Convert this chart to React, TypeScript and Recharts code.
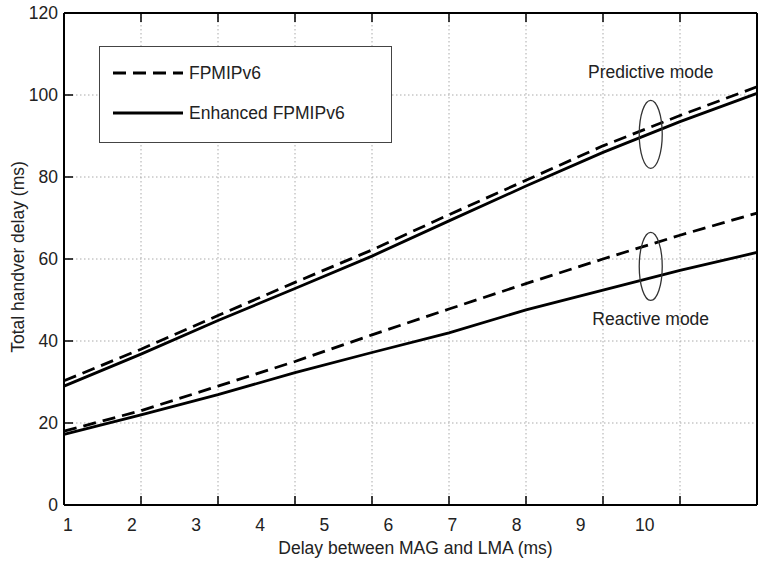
import React from "react"
import { CartesianGrid, Legend, Line, LineChart, ReferenceDot, XAxis, YAxis } from "recharts"

// delay between MAG and LMA (grid positions of the original axis)
const delays = [1, 2, 3, 4, 5, 6, 7, 8, 9, 10]
// total handover delay (ms)
const predictiveFpmip = [30.3, 38.0, 46.2, 54.3, 62.2, 70.8, 79.2, 87.6, 95.0, 102.0]
const predictiveEnhanced = [29.0, 36.8, 45.0, 52.8, 60.7, 69.3, 77.8, 86.0, 93.5, 100.4]
const reactiveFpmip = [18.0, 23.0, 29.0, 35.0, 41.5, 47.8, 54.0, 60.0, 65.8, 71.2]
const reactiveEnhanced = [17.2, 22.0, 26.9, 32.3, 37.2, 42.0, 47.6, 52.4, 57.2, 61.6]

const yTicks = [0, 20, 40, 60, 80, 100, 120]
const xTickLabels = [1, 2, 3, 4, 5, 6, 7, 8, 9, 10]
const legendOrder = ["FPMIPv6", "Enhanced FPMIPv6"]

const modeNotes = [
  { text: "Predictive mode", x: 8.62, y: 105.6 },
  { text: "Reactive mode", x: 8.62, y: 45.4 },
]
const modeRings = [
  { x: 8.62, y: 90.4 },
  { x: 8.62, y: 58.2 },
]

const data = delays.map((d, i) => ({
  x: d,
  pf: predictiveFpmip[i],
  pe: predictiveEnhanced[i],
  rf: reactiveFpmip[i],
  re: reactiveEnhanced[i],
}))

const FONT = "'Liberation Sans', Arial, sans-serif"
const FS = 17.5
const TXT = "#222"
const DASH = "13 7"

const noLabel = () => <g />

function XTitle(props: any) {
  const { viewBox } = props
  return (
    <text
      x={viewBox.x + viewBox.width / 2 + 5}
      y={viewBox.y + viewBox.height - 10}
      textAnchor="middle"
      fontSize={FS}
      fill={TXT}
      fontFamily={FONT}
    >
      Delay between MAG and LMA (ms)
    </text>
  )
}

function YTitle(props: any) {
  const { viewBox } = props
  const cx = 17.5
  const cy = viewBox.y + viewBox.height / 2 - 2
  return (
    <text
      x={cx}
      y={cy}
      transform={`rotate(-90 ${cx} ${cy})`}
      textAnchor="middle"
      dominantBaseline="central"
      fontSize={FS}
      fill={TXT}
      fontFamily={FONT}
    >
      Total handver delay (ms)
    </text>
  )
}

function LegendBox(props: any) {
  const items = (props.payload || [])
    .filter((e: any) => legendOrder.includes(e.value))
    .sort((a: any, b: any) => legendOrder.indexOf(a.value) - legendOrder.indexOf(b.value))
  return (
    <div
      style={{
        width: 293,
        height: 97,
        boxSizing: "border-box",
        border: "1.5px solid #444",
        background: "#fff",
        position: "relative",
        fontFamily: FONT,
      }}
    >
      {items.map((e: any, i: number) => (
        <div
          key={i}
          style={{
            position: "absolute",
            left: 12,
            top: 26 + i * 40 - 12,
            height: 24,
            display: "flex",
            alignItems: "center",
          }}
        >
          <svg width={72} height={24}>
            <line
              x1={1}
              x2={71}
              y1={12}
              y2={12}
              stroke="#000"
              strokeWidth={3}
              strokeDasharray={e.payload?.strokeDasharray}
            />
          </svg>
          <span style={{ marginLeft: 5, fontSize: FS, color: TXT, whiteSpace: "nowrap" }}>{e.value}</span>
        </div>
      ))}
    </div>
  )
}

const ring = (p: any) => (
  <ellipse cx={p.cx} cy={p.cy} rx={11.5} ry={34} fill="none" stroke="#333" strokeWidth={1.3} />
)

const note = (text: string) => (p: any) => (
  <text
    x={p.cx}
    y={p.cy}
    textAnchor="middle"
    dominantBaseline="central"
    fontSize={FS}
    fill={TXT}
    fontFamily={FONT}
  >
    {text}
  </text>
)

const axisStroke = { stroke: "#000", strokeWidth: 2 }
const tickStroke = { stroke: "#000", strokeWidth: 1.5 }

export default function App() {
  return (
    <div style={{ position: "absolute", left: 0, top: 0, width: 759, height: 564, background: "#fff" }}>
      <LineChart
        width={759}
        height={564}
        data={data}
        margin={{ top: 12, right: 1, bottom: 0, left: 0 }}
        style={{ fontFamily: FONT }}
      >
        <CartesianGrid stroke="#aaa" strokeDasharray="1.5 2.5" xAxisId={0} yAxisId={0} />
        <XAxis
          xAxisId={0}
          dataKey="x"
          type="number"
          domain={[1, 10]}
          ticks={delays}
          height={1}
          tick={noLabel}
          tickSize={-9}
          axisLine={axisStroke}
          tickLine={tickStroke}
          interval={0}
        />
        <XAxis
          xAxisId="lab"
          dataKey="x"
          type="number"
          domain={[0.94, 11.75]}
          allowDataOverflow
          ticks={xTickLabels}
          height={58}
          axisLine={false}
          tickLine={false}
          tickSize={0}
          tickMargin={13}
          tick={{ fill: TXT, fontSize: FS }}
          interval={0}
          label={(p: any) => <XTitle {...p} />}
        />
        <XAxis
          xAxisId="top"
          orientation="top"
          dataKey="x"
          type="number"
          domain={[1, 10]}
          ticks={delays}
          height={1}
          tick={noLabel}
          tickSize={-9}
          axisLine={axisStroke}
          tickLine={tickStroke}
          interval={0}
        />
        <YAxis
          yAxisId={0}
          type="number"
          domain={[0, 120]}
          ticks={yTicks}
          width={64}
          tickSize={-9}
          tickMargin={15}
          axisLine={axisStroke}
          tickLine={tickStroke}
          tick={{ fill: TXT, fontSize: FS }}
          interval={0}
          label={(p: any) => <YTitle {...p} />}
        />
        <YAxis
          yAxisId="r"
          orientation="right"
          type="number"
          domain={[0, 120]}
          ticks={yTicks}
          width={1}
          tick={noLabel}
          tickSize={-9}
          axisLine={axisStroke}
          tickLine={tickStroke}
          interval={0}
        />
        <Legend
          layout="vertical"
          align="center"
          verticalAlign="middle"
          content={(p: any) => <LegendBox {...p} />}
          wrapperStyle={{ position: "absolute", left: 99, top: 46, width: 293, height: 97 }}
        />
        <Line
          dataKey="pf"
          name="FPMIPv6"
          stroke="#000"
          strokeWidth={2.8}
          strokeDasharray={DASH}
          dot={false}
          activeDot={false}
          isAnimationActive={false}
        />
        <Line
          dataKey="pe"
          name="Enhanced FPMIPv6"
          stroke="#000"
          strokeWidth={2.8}
          dot={false}
          activeDot={false}
          isAnimationActive={false}
        />
        <Line
          dataKey="rf"
          name="FPMIPv6 (reactive)"
          legendType="none"
          stroke="#000"
          strokeWidth={2.8}
          strokeDasharray={DASH}
          dot={false}
          activeDot={false}
          isAnimationActive={false}
        />
        <Line
          dataKey="re"
          name="Enhanced FPMIPv6 (reactive)"
          legendType="none"
          stroke="#000"
          strokeWidth={2.8}
          dot={false}
          activeDot={false}
          isAnimationActive={false}
        />
        {modeRings.map((r, i) => (
          <ReferenceDot key={`ring-${i}`} x={r.x} y={r.y} r={1} shape={ring} ifOverflow="visible" />
        ))}
        {modeNotes.map((n, i) => (
          <ReferenceDot key={`note-${i}`} x={n.x} y={n.y} r={1} shape={note(n.text)} ifOverflow="visible" />
        ))}
      </LineChart>
    </div>
  )
}
